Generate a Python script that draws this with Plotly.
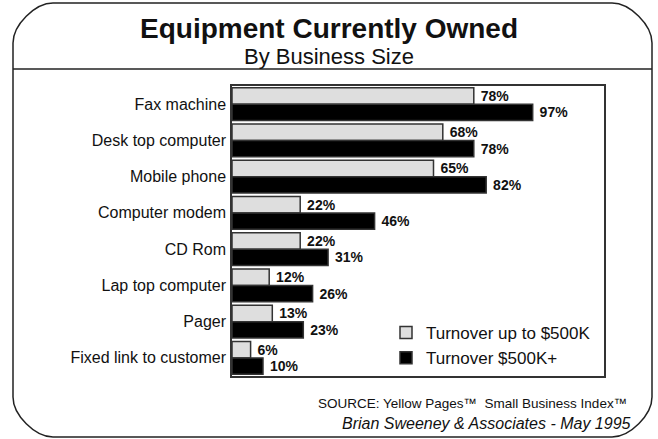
import plotly.graph_objects as go

# Survey results: share of businesses owning each item (%)
categories = [
    "Fax machine",
    "Desk top computer",
    "Mobile phone",
    "Computer modem",
    "CD Rom",
    "Lap top computer",
    "Pager",
    "Fixed link to customer",
]
small_business = [78, 68, 65, 22, 22, 12, 13, 6]
large_business = [97, 78, 82, 46, 31, 26, 23, 10]
series_names = ["Turnover up to $500K", "Turnover $500K+"]

W, H = 658, 439
ML, MR, MT, MB = 232, 54, 86, 63
PW, PH = W - ML - MR, H - MT - MB


def px(x):
    """Pixel x -> paper x."""
    return (x - ML) / PW


def py(y):
    """Pixel y (from top) -> paper y."""
    return (H - MB - y) / PH


FONT = "Liberation Sans, Arial, Helvetica, sans-serif"
INK = "#111111"

fig = go.Figure()
fig.add_trace(go.Bar(
    y=categories, x=small_business, orientation="h", name=series_names[0],
    marker=dict(color="#dedede", line=dict(color="#333333", width=1.5)),
    text=[f" {v}%" for v in small_business], textposition="outside",
    textfont=dict(family=FONT, size=14, color=INK, weight="bold"),
    cliponaxis=False, constraintext="none",
))
fig.add_trace(go.Bar(
    y=categories, x=large_business, orientation="h", name=series_names[1],
    marker=dict(color="#000000", line=dict(color="#333333", width=1.5)),
    text=[f" {v}%" for v in large_business], textposition="outside",
    textfont=dict(family=FONT, size=14, color=INK, weight="bold"),
    cliponaxis=False, constraintext="none",
))

# Rounded outer frame and the rule under the heading
L, R, T, B = 13, 652, 3, 437
r = 40
k = 0.45 * r
frame = (
    f"M {px(L)},{py(T + r)} "
    f"C {px(L)},{py(T + r - k)} {px(L + r - k)},{py(T)} {px(L + r)},{py(T)} "
    f"L {px(R - r)},{py(T)} "
    f"C {px(R - r + k)},{py(T)} {px(R)},{py(T + r - k)} {px(R)},{py(T + r)} "
    f"L {px(R)},{py(B - r)} "
    f"C {px(R)},{py(B - r + k)} {px(R - r + k)},{py(B)} {px(R - r)},{py(B)} "
    f"L {px(L + r)},{py(B)} "
    f"C {px(L + r - k)},{py(B)} {px(L)},{py(B - r + k)} {px(L)},{py(B - r)} Z"
)
shapes = [
    dict(type="path", xref="paper", yref="paper", path=frame,
         line=dict(color="#222222", width=1.5)),
    dict(type="line", xref="paper", yref="paper",
         x0=px(L), x1=px(R), y0=py(69), y1=py(69),
         line=dict(color="#222222", width=1.5)),
]

annotations = [
    dict(text="<b>Equipment Currently Owned</b>", x=px(329), y=py(29),
         xref="paper", yref="paper", xanchor="center", yanchor="middle",
         showarrow=False, font=dict(family=FONT, size=28, color=INK)),
    dict(text="By Business Size", x=px(329), y=py(57),
         xref="paper", yref="paper", xanchor="center", yanchor="middle",
         showarrow=False, font=dict(family=FONT, size=22, color=INK)),
    dict(text="SOURCE: Yellow Pages™  Small Business Index™", x=px(629), y=py(403),
         xref="paper", yref="paper", xanchor="right", yanchor="middle",
         showarrow=False, font=dict(family=FONT, size=13.5, color=INK)),
    dict(text="<i>Brian Sweeney & Associates - May 1995</i>", x=px(633), y=py(424),
         xref="paper", yref="paper", xanchor="right", yanchor="middle",
         showarrow=False, font=dict(family=FONT, size=16, color=INK)),
]

fig.update_layout(
    width=W, height=H,
    margin=dict(l=ML, r=MR, t=MT, b=MB, pad=0),
    paper_bgcolor="white", plot_bgcolor="white",
    barmode="group", bargap=0.09, bargroupgap=0,
    showlegend=True,
    legend=dict(x=px(386), y=py(315), xanchor="left", yanchor="top",
                traceorder="normal", bgcolor="rgba(0,0,0,0)",
                font=dict(family=FONT, size=17, color=INK),
                itemwidth=30, tracegroupgap=0),
    shapes=shapes, annotations=annotations,
    font=dict(family=FONT, color=INK),
)
fig.update_xaxes(range=[0, 120], showgrid=False, zeroline=False,
                 showticklabels=False, ticks="",
                 showline=True, mirror=True, linecolor="#333333", linewidth=1.5)
fig.update_yaxes(autorange="reversed", showgrid=False, zeroline=False, ticks="",
                 showline=True, mirror=True, linecolor="#333333", linewidth=1.5,
                 tickfont=dict(family=FONT, size=16, color=INK), ticklabelstandoff=1)

fig.write_html("out.html")
